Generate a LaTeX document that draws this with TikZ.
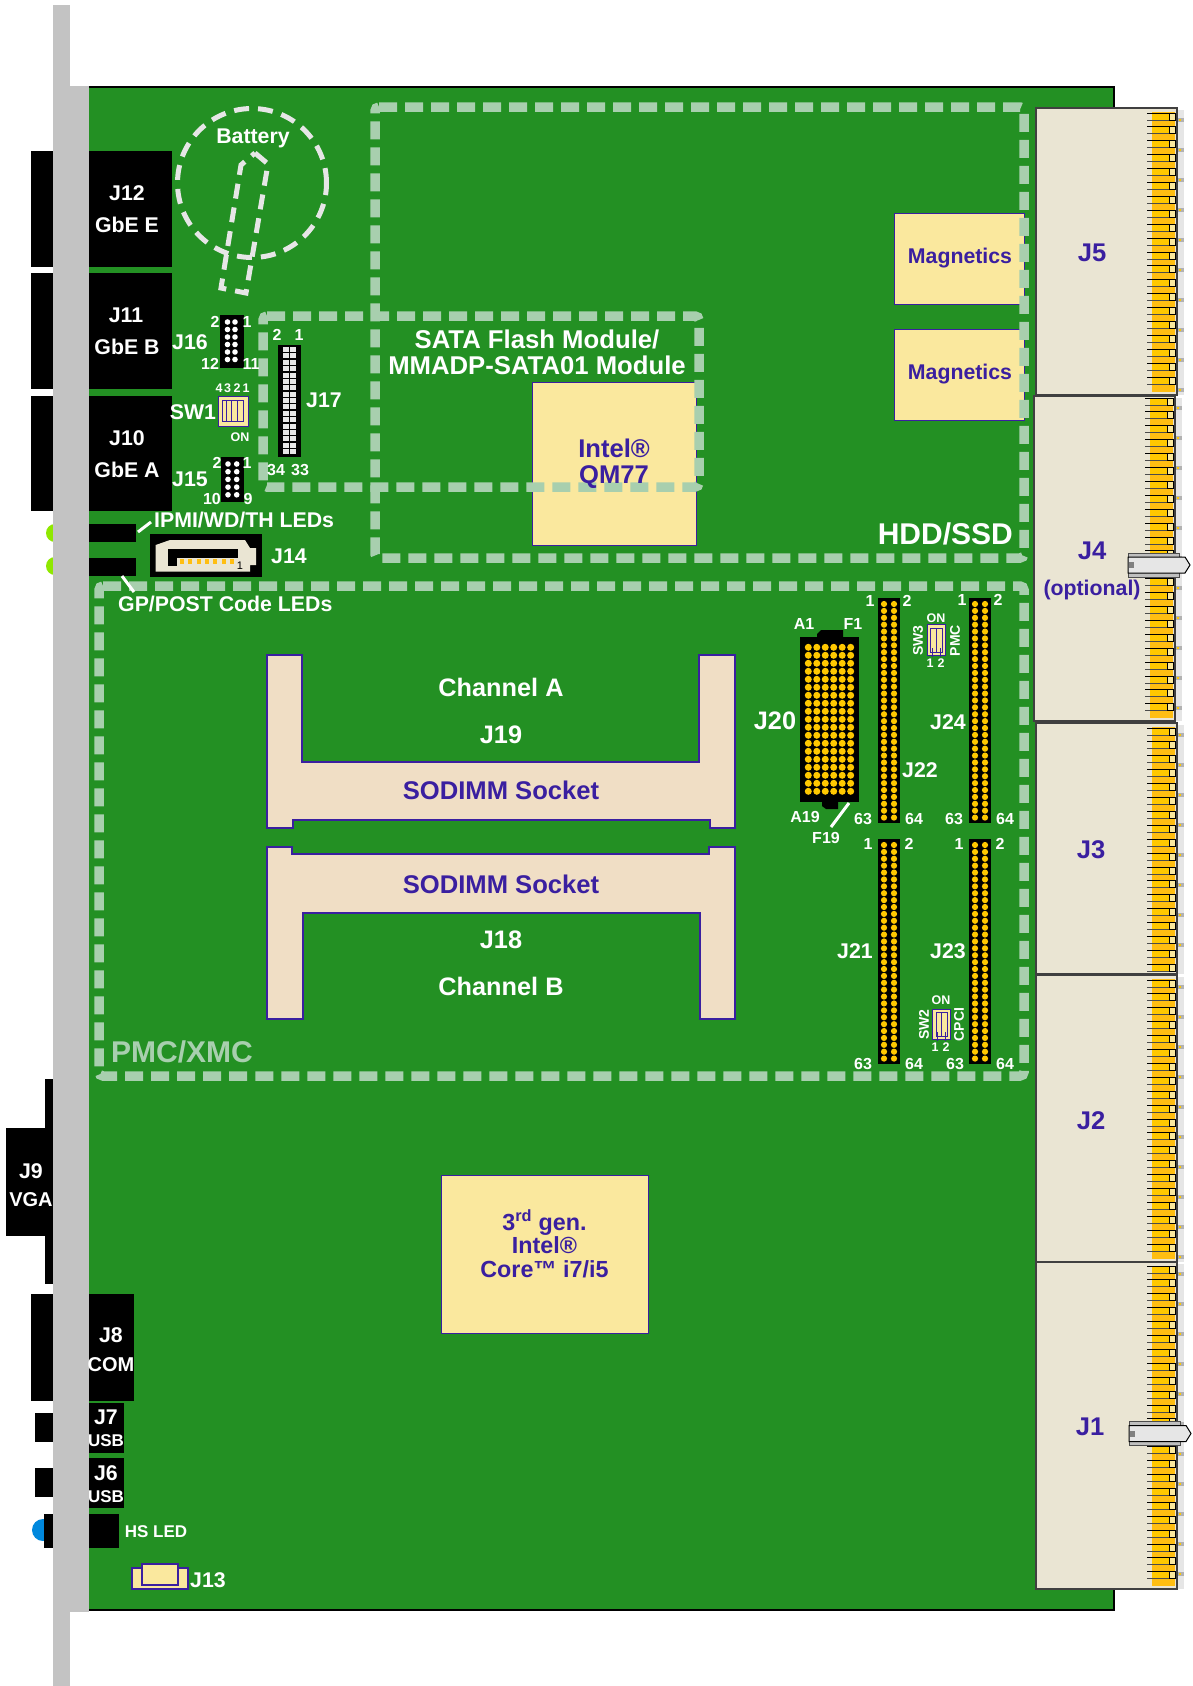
\documentclass[tikz,border=0pt]{standalone}
\usepackage{fontspec}
\setmainfont{Liberation Sans}
\usetikzlibrary{positioning,calc}
\definecolor{pcbgreen}{HTML}{239023}
\definecolor{plategray}{HTML}{C3C3C3}
\definecolor{zonegreen}{HTML}{A8CFAE}
\definecolor{batgray}{HTML}{E6E6E6}
\definecolor{chipyellow}{HTML}{FAE89E}
\definecolor{purpleline}{HTML}{3A1FA0}
\definecolor{beige}{HTML}{EAE5D3}
\definecolor{socketfill}{HTML}{F0DEC5}
\definecolor{pingold}{HTML}{FFC800}
\definecolor{pinback}{HTML}{FFBE12}
\definecolor{ledlime}{HTML}{8FE800}
\definecolor{ledblue}{HTML}{0088DD}
\tikzset{
    blackbox/.style={rectangle, fill=black, anchor=north west, inner sep=0pt, outer sep=0pt},
    chipbox/.style={draw=purpleline, rectangle, fill=chipyellow, line width=1pt, anchor=north west, inner sep=0pt},
    whitelbl/.style={text=white, inner sep=0pt, yshift=-0.5pt, font=\bfseries\fontsize{21.3}{21.3}\selectfont},
    midlbl/.style={whitelbl, font=\bfseries\fontsize{25.3}{26}\selectfont},
    pinlbl/.style={whitelbl, font=\bfseries\fontsize{16}{16}\selectfont},
    tinylbl/.style={whitelbl, font=\bfseries\fontsize{12.5}{12.5}\selectfont},
    bluelbl/.style={text=purpleline, inner sep=0pt, yshift=-0.5pt, align=center, font=\bfseries\fontsize{25.6}{26}\selectfont},
    zone/.style={draw=zonegreen, line width=9.5pt, dash pattern=on 18pt off 8pt, rounded corners=4pt},
    batline/.style={draw=batgray, line width=5pt, dash pattern=on 15pt off 9pt},
    socket/.style={draw=purpleline, fill=socketfill, line width=2pt},
    tick/.style={draw=white, line width=3pt}
}
\begin{document}
\begin{tikzpicture}[x=1pt, y=-1pt]
    \useasboundingbox (0,0) rectangle (1192,1686);
    % board
    \draw[black, line width=2pt, fill=pcbgreen] (70,87) rectangle (1114,1610);
    % LEDs behind the plate
    \fill[ledlime] (55,533) circle (9pt);
    \fill[ledlime] (55,566) circle (9pt);
    \fill[ledblue] (43,1530) circle (11pt);
    % panel connectors
    \node[blackbox, minimum width=83pt, minimum height=116pt] (j12) at (89,151) {};
    \node[blackbox, minimum width=83pt, minimum height=116pt] (j11) at (89,273) {};
    \node[blackbox, minimum width=83pt, minimum height=115pt] (j10) at (89,396) {};
    \node[blackbox, minimum width=30pt, minimum height=116pt] (j12b) at (31,151) {};
    \node[blackbox, minimum width=30pt, minimum height=116pt] (j11b) at (31,273) {};
    \node[blackbox, minimum width=30pt, minimum height=115pt] (j10b) at (31,396) {};
    \node[blackbox, minimum width=47pt, minimum height=18pt] (ledup) at (89,524) {};
    \node[blackbox, minimum width=47pt, minimum height=18pt] (leddown) at (89,558) {};
    \node[blackbox, minimum width=55pt, minimum height=108pt] (j9) at (6,1128) {};
    \node[blackbox, minimum width=15pt, minimum height=205pt] (j9stem) at (45,1079) {};
    \node[blackbox, minimum width=45pt, minimum height=107pt] (j8) at (89,1294) {};
    \node[blackbox, minimum width=30pt, minimum height=107pt] (j8b) at (31,1294) {};
    \node[blackbox, minimum width=35pt, minimum height=50pt] (j7) at (89,1403) {};
    \node[blackbox, minimum width=25pt, minimum height=29pt] (j7b) at (35,1413) {};
    \node[blackbox, minimum width=35pt, minimum height=50pt] (j6) at (89,1458) {};
    \node[blackbox, minimum width=25pt, minimum height=29pt] (j6b) at (35,1468) {};
    \node[blackbox, minimum width=75pt, minimum height=34pt] (hsled) at (44,1514) {};
    % faceplate
    \fill[plategray] (53,5) rectangle (70,1686);
    \fill[plategray] (53,86) rectangle (89,1612);
    % chips
    \node[chipbox, minimum width=164pt, minimum height=163pt] (qm77) at (532,382) {};
    \node[chipbox, minimum width=130pt, minimum height=91pt] (mag1) at (894,213) {};
    \node[chipbox, minimum width=130pt, minimum height=91pt] (mag2) at (894,329) {};
    \node[chipbox, minimum width=207pt, minimum height=158pt] (cpu) at (441,1175) {};
    % zones
    \draw[zone] (375,107) -- (1024,107) -- (1024,558) -- (375,558) -- cycle;
    \draw[zone] (263,316) -- (699,316) -- (699,487) -- (263,487) -- cycle;
    \draw[zone] (99,586) -- (1024,586) -- (1024,1076) -- (99,1076) -- cycle;
    % battery
    \draw[batline] (252,183) circle (74.5pt);
    \draw[batline] (255,153) -- (268,164) -- (246,293) -- (221,288) -- (241,165) -- cycle;
    % sockets
    \draw[socket] (267,655) -- (302,655) -- (302,762) -- (699,762) -- (699,655) -- (735,655) -- (735,828) -- (710,828) -- (710,820) -- (293,820) -- (293,828) -- (267,828) -- cycle;
    \draw[socket] (267,847) -- (292,847) -- (292,854) -- (709,854) -- (709,847) -- (735,847) -- (735,1019) -- (700,1019) -- (700,913) -- (303,913) -- (303,1019) -- (267,1019) -- cycle;
    % small headers
    \node[blackbox, minimum width=24pt, minimum height=53pt] (j16) at (220,315) {};
    \node[blackbox, minimum width=23pt, minimum height=45pt] (j15) at (221,457) {};
    \node[blackbox, minimum width=23pt, minimum height=112pt] (j17) at (278,345) {};
    \foreach \row in {0,...,5}
        \foreach \col in {227.5,235}
            \fill[white] (\col,322+7.5*\row) circle (2.8pt);
    \foreach \row in {0,...,4}
        \foreach \col in {228,236.7}
            \fill[white] (\col,464+7.7*\row) circle (2.8pt);
    \foreach \row in {0,...,16}
        \foreach \col in {285.5,293}
            \fill[batgray] (\col-3,347+6.38*\row) rectangle ++(6,5);
    % J14
    \node[blackbox, minimum width=112pt, minimum height=43pt] (j14) at (150,534) {};
    \fill[beige] (155.7,571.7) -- (155.7,545) -- (170,540) -- (245,540) -- (250,548) -- (256,548) -- (256,565) -- (250,565) -- (250,571.7) -- cycle;
    \fill[black] (168.3,549.3) rectangle (238.3,558.3);
    \fill[black] (168.3,558) rectangle (176.7,566);
    \foreach \k in {0,...,6}
        \fill[pinback] (180+8.3*\k,559) rectangle ++(4,5);
    \node[text=black, inner sep=0pt, font=\fontsize{11}{11}\selectfont] (j14pin) at (240,566) {1};
    % J20
    \fill[black] (800,637) rectangle (859,802);
    \fill[black] (817,637) -- (817,634) -- (821,630) -- (843,630) -- (843,637) -- cycle;
    \fill[black] (822,802) -- (822,806) -- (826,809) -- (838,809) -- (838,802) -- cycle;
    \foreach \col in {0,...,5}
        \foreach \row in {0,...,18}
            \fill[pingold] (808.3+8.47*\col,647.3+8*\row) circle (3.5pt);
    % J21 to J24
    \foreach \xa/\ya in {878/598,969/598,878/839,969/839} {
        \fill[black] (\xa,\ya) rectangle ++(22,225);
        \foreach \row in {0,...,31} {
            \fill[pingold] (\xa+6,\ya+6+6.89*\row) circle (3.1pt);
            \fill[pingold] (\xa+16,\ya+6+6.89*\row) circle (3.1pt);
        }
    }
    % switches
    \node[chipbox, minimum width=30pt, minimum height=30pt] (sw1) at (218,396) {};
    \draw[purpleline, line width=0.7pt] (222.7,400) rectangle (243.3,421.7);
    \foreach \xa in {226.7,231.7,237.3}
        \draw[purpleline, line width=0.7pt] (\xa,400) -- (\xa,421.7);
    \node[chipbox, minimum width=18pt, minimum height=31pt] (sw3) at (927,624) {};
    \draw[purpleline, line width=0.7pt] (930,628) rectangle (942,652);
    \draw[purpleline, line width=0.7pt] (936,628) -- (936,652);
    \foreach \xa in {932,940}
        \draw[purpleline, line width=0.7pt] (\xa,648) -- (\xa,657);
    \node[chipbox, minimum width=18pt, minimum height=30pt] (sw2) at (932,1009) {};
    \draw[purpleline, line width=0.7pt] (936,1012) rectangle (947,1036);
    \draw[purpleline, line width=0.7pt] (941.5,1012) -- (941.5,1036);
    \foreach \xa in {937,945}
        \draw[purpleline, line width=0.7pt] (\xa,1032) -- (\xa,1041);
    % J13
    \draw[purpleline, fill=chipyellow, line width=1.3pt] (132,1568) rectangle (188,1589);
    \draw[purpleline, fill=chipyellow, line width=2pt] (142,1564) rectangle (178,1585);
    % backplane connectors
    \foreach \xa/\ya/\yb/\ys in {1036/108/395/113,1034/396/721/398,1036/723/974/728,1036/975/1262/980,1036/1262/1589/1266} {
        \fill[batgray] (\xa+141,\ya+2) rectangle (\xa+148,\yb);
        \foreach \k in {0,...,10} {
            \pgfmathsetmacro{\ym}{\ya+10+30*\k}
            \pgfmathparse{\ym<\yb-4 ? 1 : 0}
            \ifnum\pgfmathresult=1
                \fill[gray!60] (\xa+142,\ym) rectangle ++(6,4);
                \fill[pingold] (\xa+143,\ym+1) rectangle ++(2,2);
            \fi
        }
        \draw[black!75, fill=beige, line width=1.2pt] (\xa,\ya) rectangle (\xa+141,\yb);
        \fill[pinback] (\xa+116,\ya+4) rectangle (\xa+139,\yb-3);
        \foreach \k in {0,...,23} {
            \pgfmathsetmacro{\ym}{\ys+13.9*\k}
            \pgfmathparse{\ym<\yb-9 ? 1 : 0}
            \ifnum\pgfmathresult=1
                \fill[pingold] (\xa+116,\ym) rectangle (\xa+139,\ym+7);
                \draw[black, line width=0.9pt] (\xa+111,\ym) -- (\xa+139,\ym);
                \draw[black!70, line width=0.9pt] (\xa+111,\ym+7) -- (\xa+139,\ym+7);
                \draw[black, fill=chipyellow, line width=0.9pt] (\xa+133,\ym) rectangle (\xa+139,\ym+7);
            \fi
        }
    }
    % ejectors
    \foreach \xa/\ym in {1128/565,1129/1433.5} {
        \draw[black!70, fill=gray!50, line width=1pt] (\xa,\ym-12) rectangle (\xa+51,\ym+12);
        \draw[black, fill=batgray, line width=1pt] (\xa,\ym-8) -- (\xa+57,\ym-8) -- (\xa+62,\ym) -- (\xa+57,\ym+8) -- (\xa,\ym+8) -- cycle;
        \fill[gray] (\xa+1,\ym-3) rectangle ++(5,6);
    }
    % labels
    \node[whitelbl] (battery) at (253,138) {Battery};
    \node[whitelbl] (j12a) at (127,193) {J12};
    \node[whitelbl] (j12c) at (127,224) {GbE E};
    \node[whitelbl] (j11a) at (126,315) {J11};
    \node[whitelbl] (j11c) at (127,346) {GbE B};
    \node[whitelbl] (j10a) at (127,438) {J10};
    \node[whitelbl] (j10c) at (127,469) {GbE A};
    \node[whitelbl] (j16a) at (190,342) {J16};
    \node[whitelbl] (j15a) at (190,479) {J15};
    \node[whitelbl] (sw1a) at (193,412) {SW1};
    \node[whitelbl] (j17a) at (324,400) {J17};
    \node[whitelbl, anchor=west] (ipmi) at (154,519) {IPMI/WD/TH LEDs};
    \node[whitelbl, anchor=west] (gppost) at (118,603) {GP/POST Code LEDs};
    \node[whitelbl] (j14a) at (289,556) {J14};
    \node[midlbl, align=center, font=\bfseries\fontsize{25.7}{26}\selectfont] (sata) at (537,352) {SATA Flash Module/\\MMADP-SATA01 Module};
    \node[whitelbl, font=\bfseries\fontsize{30}{30}\selectfont, anchor=east] (hdd) at (1013,533) {HDD/SSD};
    \node[whitelbl, text=zonegreen, font=\bfseries\fontsize{30}{30}\selectfont] (pmc) at (182,1051) {PMC/XMC};
    \node[midlbl] (chana) at (501,687) {Channel A};
    \node[midlbl] (j19a) at (501,734) {J19};
    \node[bluelbl] (soda) at (501,790) {SODIMM Socket};
    \node[bluelbl] (sodb) at (501,884) {SODIMM Socket};
    \node[midlbl] (j18a) at (501,939) {J18};
    \node[midlbl] (chanb) at (501,986) {Channel B};
    \node[midlbl] (j20a) at (775,720) {J20};
    \node[whitelbl] (j22a) at (920,770) {J22};
    \node[whitelbl] (j24a) at (948,722) {J24};
    \node[whitelbl] (j21a) at (855,951) {J21};
    \node[whitelbl] (j23a) at (948,951) {J23};
    \node[whitelbl] (j9a) at (31,1171) {J9};
    \node[whitelbl, font=\bfseries\fontsize{20}{20}\selectfont] (j9c) at (31,1199) {VGA};
    \node[whitelbl] (j8a) at (111,1335) {J8};
    \node[whitelbl, font=\bfseries\fontsize{20}{20}\selectfont] (j8c) at (111,1364) {COM};
    \node[whitelbl] (j7a) at (106,1417) {J7};
    \node[whitelbl, font=\bfseries\fontsize{17}{17}\selectfont] (j7c) at (106,1440) {USB};
    \node[whitelbl] (j6a) at (106,1473) {J6};
    \node[whitelbl, font=\bfseries\fontsize{17}{17}\selectfont] (j6c) at (106,1496) {USB};
    \node[pinlbl, font=\bfseries\fontsize{17}{17}\selectfont] (hslbl) at (156,1531) {HS LED};
    \node[whitelbl] (j13a) at (208,1580) {J13};
    \foreach \name/\xa/\ya/\txt in {a/215/321/2,b/247/321/1,c/210/363/12,d/251/363/11,e/277/334/2,f/299/334/1,g/276/469/34,h/300/469/33,i/217/462/2,j/247/462/1,k/212/498/10,l/248/498/9,m/804/623/A1,n/853/623/F1,o/805/816/A19,p/826/837/F19,q/870/600/1,r/907/600/2,s/863/818/63,t/914/818/64,u/962/599/1,v/998/599/2,w/954/818/63,x/1005/818/64,y/868/843/1,z/909/843/2,aa/863/1063/63,ab/914/1063/64,ac/959/843/1,ad/1000/843/2,ae/955/1063/63,af/1005/1063/64}
        \node[pinlbl] (pin\name) at (\xa,\ya) {\txt};
    \foreach \name/\xa/\ya/\txt in {a/219/388/4,b/227.5/388/3,c/237/388/2,d/246/388/1,e/240/437/ON,f/936/618/ON,g/930/663/1,h/941/663/2,i/941/1000/ON,j/935/1047/1,k/946/1047/2}
        \node[tinylbl] (sm\name) at (\xa,\ya) {\txt};
    \node[tinylbl, rotate=90, font=\bfseries\fontsize{14}{14}\selectfont] (sw3a) at (918,640) {SW3};
    \node[tinylbl, rotate=90, font=\bfseries\fontsize{14}{14}\selectfont] (sw3c) at (955,640) {PMC};
    \node[tinylbl, rotate=90, font=\bfseries\fontsize{14}{14}\selectfont] (sw2a) at (924,1024) {SW2};
    \node[tinylbl, rotate=90, font=\bfseries\fontsize{14}{14}\selectfont] (sw2c) at (959,1024) {CPCI};
    \node[bluelbl] (qm77a) at (614,463) {Intel®\\QM77};
    \node[bluelbl, font=\bfseries\fontsize{21.3}{21.3}\selectfont] (mag1a) at (960,258) {Magnetics};
    \node[bluelbl, font=\bfseries\fontsize{21.3}{21.3}\selectfont] (mag2a) at (960,374) {Magnetics};
    \node[bluelbl, font=\bfseries\fontsize{23.3}{23.5}\selectfont] (cpua) at (544.5,1243) {3\textsuperscript{rd} gen.\\Intel®\\Core™ i7/i5};
    \node[bluelbl] (j5a) at (1092,252) {J5};
    \node[bluelbl] (j4a) at (1092,550) {J4};
    \node[bluelbl, font=\bfseries\fontsize{21.3}{21.3}\selectfont] (j4c) at (1092,589) {(optional)};
    \node[bluelbl] (j3a) at (1091,849) {J3};
    \node[bluelbl] (j2a) at (1091,1120) {J2};
    \node[bluelbl] (j1a) at (1090,1426) {J1};
    % pointer ticks
    \coordinate (ipmitick) at (138,532);
    \coordinate (gptick) at (134,592);
    \coordinate (f19tick) at (831,827);
    \coordinate (f19end) at (849,803);
    \draw[tick] (ipmitick) -- (151,522);
    \draw[tick] (gptick) -- (122,576);
    \draw[tick] (f19tick) -- (f19end);
\end{tikzpicture}
\end{document}
